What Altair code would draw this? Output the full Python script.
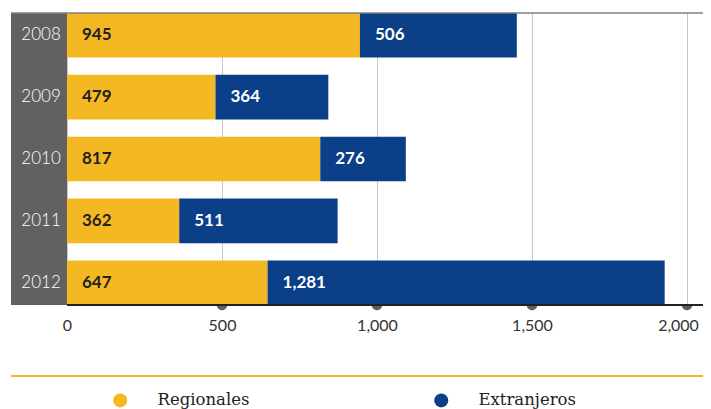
import altair as alt
import pandas as pd

years = ["2008", "2009", "2010", "2011", "2012"]
regionales = [945, 479, 817, 362, 647]
extranjeros = [506, 364, 276, 511, 1281]
series = ["Regionales", "Extranjeros"]
colors = ["#F4B922", "#0B3F87"]
tick_values = [0, 500, 1000, 1500, 2000]

rows = []
for i, y in enumerate(years):
    rows.append({"year": y, "series": series[0], "value": regionales[i], "order": 0})
    rows.append({"year": y, "series": series[1], "value": extranjeros[i], "order": 1})
df = pd.DataFrame(rows)

W = 692
H = 292
XMIN = -180.6
XMAX = 2051.6

xscale = alt.Scale(domain=[XMIN, XMAX], nice=False, zero=False)
yscale = alt.Scale(domain=years, paddingInner=0.28, paddingOuter=0)

ax = alt.Axis(
    values=tick_values, labelExpr="format(datum.value, ',')", grid=True,
    gridColor="#c8c8c8", gridWidth=1, domain=False, ticks=False,
    labelFont="Lato", labelFontSize=16, labelColor="#333333", labelPadding=12,
    labelOffset={"condition": {"test": "datum.value == 2000", "value": -9}, "value": 0},
    title=None,
)

base = alt.Chart(df).transform_stack(
    stack="value", groupby=["year"], as_=["x0", "x1"], sort=[alt.SortField("order")]
)

bars = base.mark_bar().encode(
    x=alt.X("x0:Q", scale=xscale, axis=ax),
    x2="x1:Q",
    y=alt.Y("year:N", scale=yscale, axis=None),
    color=alt.Color(
        "series:N",
        scale=alt.Scale(domain=series, range=colors),
        legend=alt.Legend(
            orient="none", legendX=101, legendY=379, direction="horizontal", title=None,
            symbolType="circle", symbolSize=196, symbolStrokeWidth=0, symbolOpacity=1,
            labelFont="DejaVu Serif", labelFontSize=16.5, labelColor="#222222",
            labelOffset=29, columnPadding=183, padding=0,
        ),
    ),
)

band_df = pd.DataFrame({"a": [XMIN], "b": [0]})
band = alt.Chart(band_df).mark_rect(color="#616161").encode(
    x=alt.X("a:Q", scale=xscale, axis=ax), x2="b:Q", y=alt.value(0), y2=alt.value(H)
)

year_df = pd.DataFrame({"year": years, "pos": [-20] * len(years)})
year_text = alt.Chart(year_df).mark_text(
    align="right", baseline="middle", color="white", font="Lato", fontWeight=300, fontSize=17
).encode(
    x=alt.X("pos:Q", scale=xscale, axis=ax),
    y=alt.Y("year:N", scale=yscale, axis=None),
    text="year:N",
)

value_text = base.mark_text(
    align="left", baseline="middle", dx=15, font="Lato", fontWeight="bold", fontSize=17
).encode(
    x=alt.X("x0:Q", scale=xscale, axis=ax),
    y=alt.Y("year:N", scale=yscale, axis=None),
    text=alt.Text("value:Q", format=","),
    color=alt.condition(alt.datum.series == "Regionales", alt.value("#231F20"), alt.value("white")),
)

top_df = pd.DataFrame({"a": [XMIN], "b": [XMAX]})
top_rule = alt.Chart(top_df).mark_rule(color="#808080", strokeWidth=1.5).encode(
    x=alt.X("a:Q", scale=xscale, axis=ax), x2="b:Q", y=alt.value(0)
)

bot_df = pd.DataFrame({"a": [0], "b": [XMAX]})
bottom_rule = alt.Chart(bot_df).mark_rule(color="#222222", strokeWidth=2).encode(
    x=alt.X("a:Q", scale=xscale, axis=ax), x2="b:Q", y=alt.value(H)
)

dots = alt.Chart(pd.DataFrame({"t": tick_values[1:]})).mark_point(
    shape="M -1 0 A 1 1 0 0 0 1 0 Z", filled=True, color="#5f5f5f", size=110, opacity=1
).encode(x=alt.X("t:Q", scale=xscale, axis=ax), y=alt.value(H))

legend_rule = alt.Chart(top_df).mark_rule(color="#F4B922", strokeWidth=2).encode(
    x=alt.X("a:Q", scale=xscale, axis=ax), x2="b:Q", y=alt.value(363)
)

chart = alt.layer(
    bars, band, year_text, value_text, top_rule, dots, bottom_rule, legend_rule
).properties(
    width=W,
    height=H,
    padding={"left": 3, "top": 5, "right": 0, "bottom": 104},
    autosize=alt.AutoSizeParams(type="none"),
).configure_view(strokeWidth=0)

chart.save("out.html", embed_options={"renderer": "svg", "actions": False})
